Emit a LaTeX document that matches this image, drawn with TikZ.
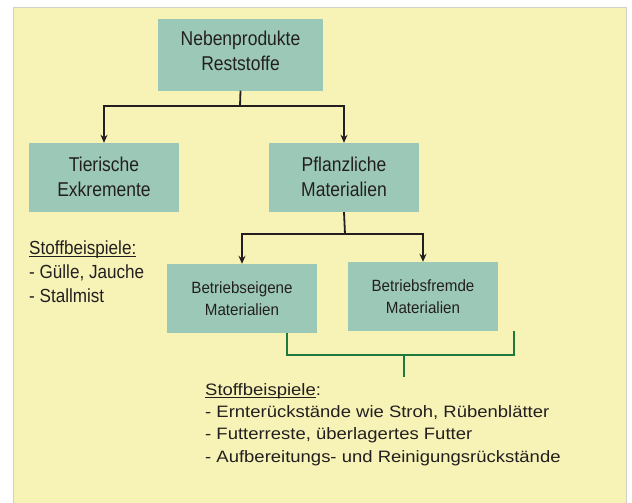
\documentclass[tikz,border=0pt]{standalone}
\usepackage{fontspec}
\setmainfont{Liberation Sans}
\newfontfamily\fbig[FakeStretch=0.875]{Liberation Sans}
\newfontfamily\fsmall[FakeStretch=0.93]{Liberation Sans}
\newfontfamily\fleft[FakeStretch=0.9]{Liberation Sans}
\newfontfamily\fbot[FakeStretch=1.12]{Liberation Sans}
\usetikzlibrary{arrows.meta,calc}
\definecolor{bgyellow}{RGB}{247,243,183}
\definecolor{boxgreen}{RGB}{156,201,183}
\definecolor{txt}{RGB}{35,31,32}
\definecolor{brgreen}{RGB}{30,122,60}
\definecolor{frame}{RGB}{208,208,200}
\newcommand\myul[1]{\setbox0\hbox{#1}\rlap{\rule[-3pt]{\wd0}{1.3pt}}\box0}
\tikzset{
  box/.style={fill=boxgreen, draw=none, minimum width=150pt, minimum height=69pt, inner sep=0pt, align=center, text=txt},
  bigtext/.style={font=\fbig\fontsize{20}{25}\selectfont},
  smalltext/.style={font=\fsmall\fontsize{16.3}{22}\selectfont},
  conn/.style={draw=txt, line width=1.8pt, -{Stealth[length=8pt,width=7pt]}},
  plain/.style={draw=txt, line width=1.8pt},
  bracket/.style={draw=brgreen, line width=2.4pt},
  leftline/.style={anchor=base west, inner sep=0pt, text=txt, font=\fleft\fontsize{19}{24}\selectfont},
  botline/.style={anchor=base west, inner sep=0pt, text=txt, font=\fbot\fontsize{16.5}{22}\selectfont},
}
\begin{document}
\begin{tikzpicture}[x=1pt,y=-1pt]
\useasboundingbox (0,0) rectangle (632,503);
\fill[bgyellow] (13,8) rectangle (626,503);
\draw[frame, line width=1pt] (13,503) -- (13,8) -- (626,8) -- (626,503);

\node[box, bigtext, minimum width=165pt, minimum height=71pt, text depth=8pt] (top) at (240.5,55) {Nebenprodukte\\Reststoffe};
\node[box, bigtext, text depth=2pt] (tier) at (104,177.5) {Tierische\\Exkremente};
\node[box, bigtext, text depth=2pt] (pfl) at (344,177.5) {Pflanzliche\\Materialien};
\node[box, smalltext] (eig) at (242,298.5) {Betriebseigene\\Materialien};
\node[box, smalltext] (frm) at (423,296.5) {Betriebsfremde\\Materialien};

\coordinate (j1) at (240,106);
\coordinate (j2) at (345,234);
\draw[plain] (top.south) -- (j1);
\draw[conn] (j1) -| (tier.north);
\draw[conn] (j1) -| (pfl.north);
\draw[plain] (pfl.south) -- (j2);
\draw[conn] (j2) -| (eig.north);
\draw[conn] (j2) -| (frm.north);

\coordinate (ga) at (287,333);
\coordinate (gb) at (514,331);
\coordinate (gm) at (404,355);
\coordinate (gt) at (404,377);
\draw[bracket] (ga) |- (gm) -| (gb);
\draw[bracket] (gm) -- (gt);

\node[leftline] (l1) at (29,254) {\myul{Stoffbeispiele:}};
\node[leftline] (l2) at (29,278) {- Gülle, Jauche};
\node[leftline] (l3) at (29,302) {- Stallmist};

\node[botline] (b1) at (205,395) {\myul{Stoffbeispiele}:};
\node[botline] (b2) at (205,417) {- Ernterückstände wie Stroh, Rübenblätter};
\node[botline] (b3) at (205,439) {- Futterreste, überlagertes Futter};
\node[botline] (b4) at (205,462) {- Aufbereitungs- und Reinigungsrückstände};
\end{tikzpicture}
\end{document}
